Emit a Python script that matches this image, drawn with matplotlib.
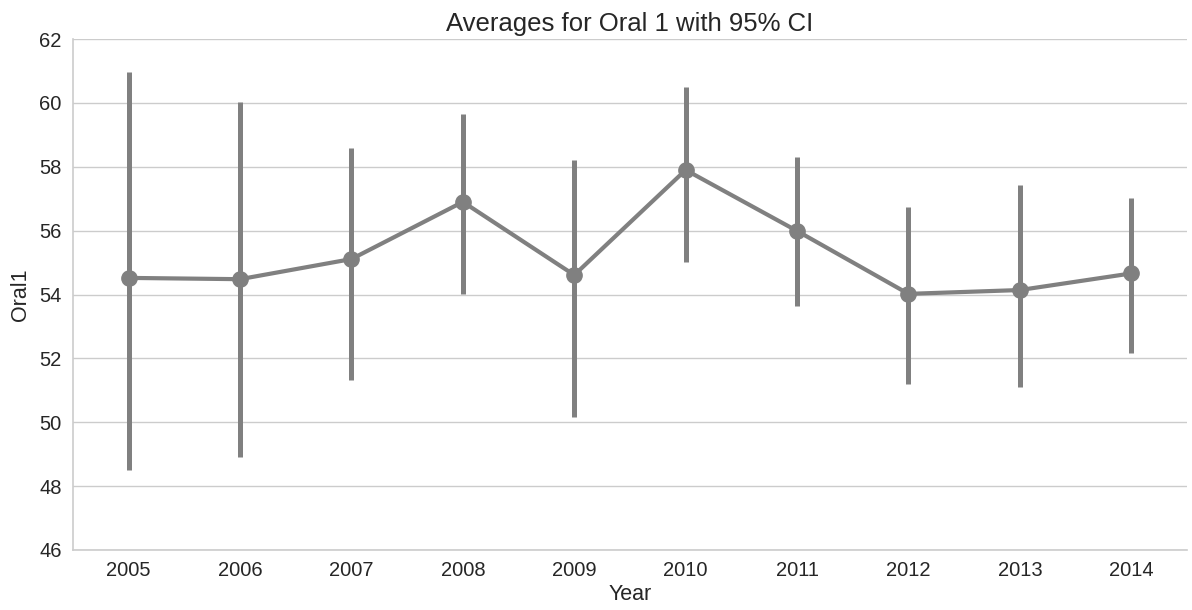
import numpy as np
import matplotlib
matplotlib.use("Agg")
import matplotlib.pyplot as plt

years = ["2005", "2006", "2007", "2008", "2009", "2010", "2011", "2012", "2013", "2014"]
means = [54.52, 54.48, 55.11, 56.90, 54.61, 57.90, 55.99, 54.02, 54.14, 54.66]
ci_lo = [48.50, 48.91, 51.32, 54.02, 50.16, 55.02, 53.64, 51.20, 51.10, 52.16]
ci_hi = [60.97, 60.03, 58.59, 59.65, 58.21, 60.50, 58.30, 56.75, 57.43, 57.03]

plt.rcParams['font.family'] = ['Liberation Sans', 'DejaVu Sans']
txt = "#262626"

fig = plt.figure(figsize=(11.92, 6.10), dpi=100)
ax = fig.add_axes([0.0612, 0.0984, 0.9346, 0.8376])

x = np.arange(len(years))
col = "#808080"
ax.vlines(x, ci_lo, ci_hi, color=col, lw=3.6, zorder=3)
ax.plot(x, means, color=col, lw=3, marker="o", ms=11, zorder=4)

ax.set_xlim(-0.5, len(years) - 0.5)
ax.set_ylim(46, 62)
ax.set_yticks(np.arange(46, 63, 2))
ax.set_xticks(x)
ax.set_xticklabels(years)
ax.tick_params(length=0, labelsize=14.5, colors=txt, pad=8)
ax.yaxis.grid(True, color="#cccccc", lw=1)
ax.set_axisbelow(True)
for s in ax.spines.values():
    s.set_color("#cccccc")
    s.set_linewidth(1.2)
ax.spines["top"].set_visible(False)
ax.spines["right"].set_visible(False)

ax.set_xlabel("Year", fontsize=15.5, color=txt, labelpad=3)
ax.set_ylabel("Oral1", fontsize=15.5, color=txt, labelpad=6)
ax.set_title("Averages for Oral 1 with 95% CI", fontsize=18.5, color=txt, pad=6)

fig.savefig("out.png", dpi=100)
